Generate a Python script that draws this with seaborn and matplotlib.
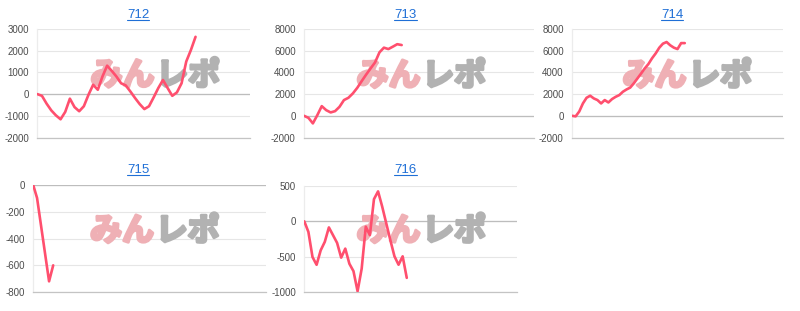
import numpy as np
import pandas as pd
import matplotlib
matplotlib.use("Agg")
import matplotlib.pyplot as plt
import matplotlib.patheffects as pe
from matplotlib.lines import Line2D
import seaborn as sns

# ---- data ----
titles = ["712", "713", "714", "715", "716"]
v712 = [0, -80, -440, -750, -980, -1160, -820, -210, -600, -790, -560, -30, 430, 200,
        810, 1310, 1070, 810, 500, 400, 120, -180, -460, -690, -560, -150, 280, 650,
        280, -80, 80, 500, 1500, 2030, 2640]
v713 = [0, -190, -700, 60, 890, 520, 310, 430, 830, 1450, 1660, 2060, 2580, 3200, 3800,
        4370, 4920, 5850, 6280, 6150, 6370, 6600, 6520]
v714 = [0, -50, 400, 1140, 1660, 1850, 1600, 1450, 1140, 1450, 1230, 1540, 1750, 1910,
        2220, 2430, 2600, 3000, 3450, 3900, 4370, 4770, 5300, 5750, 6280, 6650, 6800,
        6500, 6280, 6150, 6700, 6700]
x715 = [0, 1, 4.2, 5.3]
v715 = [0, -95, -720, -600]
v716 = [0, -150, -505, -615, -410, -290, -86, -195, -305, -514, -386, -600, -705, -990,
        -670, -76, -195, 314, 424, 210, -29, -267, -495, -614, -495, -800]
yticks712 = [-2000, -1000, 0, 1000, 2000, 3000]
yticks713 = [-2000, 0, 2000, 4000, 6000, 8000]
yticks714 = [-2000, 0, 2000, 4000, 6000, 8000]
yticks715 = [-800, -600, -400, -200, 0]
yticks716 = [-1000, -500, 0, 500]
watermark_a = "みん"
watermark_b = "レポ"

series = {
    "712": (list(range(len(v712))), v712, yticks712),
    "713": (list(range(len(v713))), v713, yticks713),
    "714": (list(range(len(v714))), v714, yticks714),
    "715": (x715, v715, yticks715),
    "716": (list(range(len(v716))), v716, yticks716),
}

# ---- layout (pixels in an 800x311 canvas) ----
W, H = 800, 311
layout = {
    "712": dict(rect=(37.3, 29, 250, 137.5), xmax=45.7, title=(138, 15), wm=(153, 76)),
    "713": dict(rect=(304, 29, 534, 137.5), xmax=51.8, title=(405.5, 15), wm=(419, 76.5)),
    "714": dict(rect=(572, 29, 783, 137.5), xmax=58.0, title=(672, 15), wm=(685, 76.5)),
    "715": dict(rect=(33.3, 185.3, 266, 292), xmax=62.0, title=(138, 170), wm=(152.5, 231.5)),
    "716": dict(rect=(304.3, 186, 517, 292), xmax=51.9, title=(405.5, 170), wm=(419, 231.5)),
}

sns.set_theme(style="white")
plt.rcParams['font.family'] = ['Liberation Sans', 'Noto Sans CJK JP', 'DejaVu Sans']

fig = plt.figure(figsize=(W / 100, H / 100), dpi=100)
LINE = '#ff4f6e'
PINK = '#efb0b5'
GREY = '#b2b2b2'
title_texts = []

for name in titles:
    xs, ys, ticks = series[name]
    L = layout[name]
    x0, y0, x1, y1 = L["rect"]
    ax = fig.add_axes([x0 / W, 1 - y1 / H, (x1 - x0) / W, (y1 - y0) / H])
    df = pd.DataFrame({"x": xs, "y": ys})
    sns.lineplot(data=df, x="x", y="y", ax=ax, color=LINE, linewidth=1.9, zorder=3)
    ax.set_xlim(0, L["xmax"])
    ax.set_ylim(min(ticks), max(ticks))
    ax.set_yticks(ticks)
    ax.set_yticklabels([str(t) for t in ticks])
    ax.set_xticks([])
    ax.set_xlabel("")
    ax.set_ylabel("")
    ax.yaxis.grid(True, color='#e6e6e6', linewidth=0.8, zorder=0)
    ax.set_axisbelow(True)
    ax.axhline(0, color='#bdbdbd', linewidth=0.9, zorder=1)
    for s in ["top", "right"]:
        ax.spines[s].set_visible(False)
    ax.spines["bottom"].set_color('#c4c4c4')
    ax.spines["bottom"].set_linewidth(0.9)
    ax.spines["left"].set_color('#ececec')
    ax.spines["left"].set_linewidth(0.9)
    ax.tick_params(axis='y', length=0, pad=6, labelsize=7, labelcolor='#4d4d4d')
    ax.patch.set_alpha(0)

    wx, wy = L["wm"]
    ax.text(wx / W + 0.002, 1 - wy / H, watermark_a, transform=fig.transFigure, ha='right',
            va='center', fontsize=23, fontweight='bold', color=PINK,
            family=['Noto Sans CJK JP'], zorder=2,
            path_effects=[pe.withStroke(linewidth=2.2, foreground=PINK)])
    ax.text(wx / W + 0.004, 1 - wy / H, watermark_b, transform=fig.transFigure, ha='left',
            va='center', fontsize=23, fontweight='bold', color=GREY,
            family=['Noto Sans CJK JP'], zorder=2,
            path_effects=[pe.withStroke(linewidth=2.2, foreground=GREY)])

    tx, ty = L["title"]
    t = fig.text(tx / W, 1 - ty / H, name, ha='center', va='center',
                 color='#1f6fd6', fontsize=9.5)
    title_texts.append(t)

fig.canvas.draw()
inv = fig.transFigure.inverted()
for t in title_texts:
    bb = t.get_window_extent()
    (fx0, fy0), (fx1, fy1) = inv.transform([(bb.x0, bb.y0 + 1.5), (bb.x1, bb.y0 + 1.5)])
    fig.add_artist(Line2D([fx0, fx1], [fy0, fy1], transform=fig.transFigure,
                          color='#1f6fd6', linewidth=0.8))

fig.savefig("out.png", dpi=100)
